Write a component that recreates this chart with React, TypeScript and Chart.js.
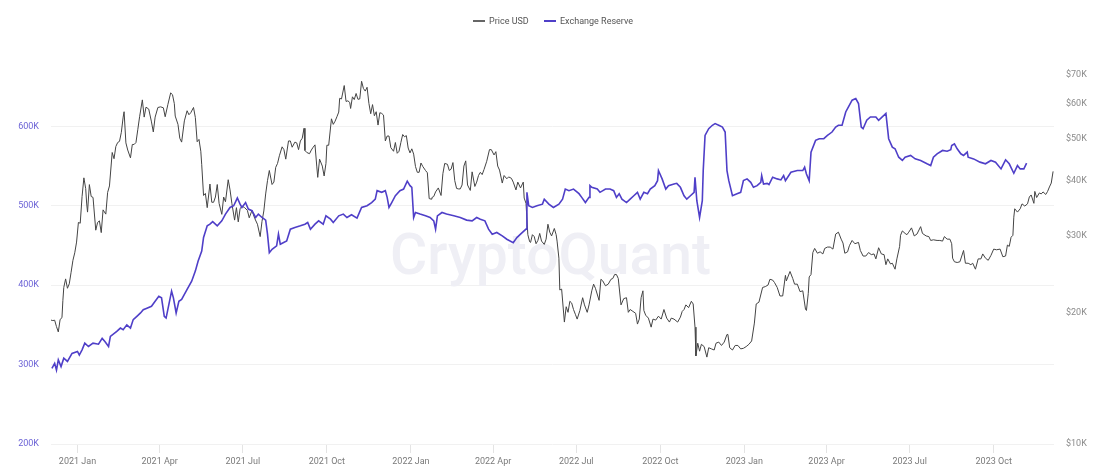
import React, { useEffect, useRef } from 'react';
import { Chart, registerables } from 'chart.js';

Chart.register(...registerables);

const priceDates: string[] = [
  '2020-12-03','2020-12-05','2020-12-07','2020-12-09','2020-12-11','2020-12-13','2020-12-15','2020-12-16','2020-12-17','2020-12-19','2020-12-21','2020-12-23','2020-12-25','2020-12-27','2020-12-29','2020-12-31',
  '2021-01-02','2021-01-04','2021-01-06','2021-01-08','2021-01-10','2021-01-11','2021-01-12','2021-01-14','2021-01-16','2021-01-18','2021-01-21','2021-01-23','2021-01-25','2021-01-27','2021-01-29',
  '2021-02-01','2021-02-03','2021-02-05','2021-02-08','2021-02-10','2021-02-12','2021-02-14','2021-02-16','2021-02-18','2021-02-20','2021-02-21','2021-02-23','2021-02-25','2021-02-28',
  '2021-03-02','2021-03-04','2021-03-06','2021-03-08','2021-03-10','2021-03-13','2021-03-15','2021-03-17','2021-03-20','2021-03-23','2021-03-25','2021-03-27','2021-03-30',
  '2021-04-02','2021-04-05','2021-04-07','2021-04-10','2021-04-13','2021-04-15','2021-04-17','2021-04-18','2021-04-21','2021-04-23','2021-04-25','2021-04-28',
  '2021-05-01','2021-05-03','2021-05-05','2021-05-08','2021-05-10','2021-05-12','2021-05-14','2021-05-16','2021-05-17','2021-05-19','2021-05-21','2021-05-23','2021-05-26','2021-05-28','2021-05-30',
  '2021-06-01','2021-06-03','2021-06-05','2021-06-08','2021-06-10','2021-06-12','2021-06-15','2021-06-17','2021-06-19','2021-06-22','2021-06-24','2021-06-26','2021-06-28','2021-06-30',
  '2021-07-03','2021-07-06','2021-07-08','2021-07-11','2021-07-14','2021-07-17','2021-07-20','2021-07-22','2021-07-24','2021-07-26','2021-07-28','2021-07-30',
  '2021-08-02','2021-08-04','2021-08-06','2021-08-08','2021-08-10','2021-08-13','2021-08-15','2021-08-17','2021-08-20','2021-08-22','2021-08-24','2021-08-27','2021-08-29','2021-08-31',
  '2021-09-02','2021-09-04','2021-09-06','2021-09-07','2021-09-09','2021-09-12','2021-09-14','2021-09-16','2021-09-18','2021-09-20','2021-09-21','2021-09-23','2021-09-26','2021-09-28','2021-09-30',
  '2021-10-01','2021-10-03','2021-10-06','2021-10-08','2021-10-10','2021-10-12','2021-10-14','2021-10-15','2021-10-17','2021-10-20','2021-10-22','2021-10-24','2021-10-26','2021-10-27','2021-10-29','2021-10-31',
  '2021-11-02','2021-11-04','2021-11-06','2021-11-08','2021-11-10','2021-11-12','2021-11-14','2021-11-16','2021-11-18','2021-11-20','2021-11-22','2021-11-24','2021-11-26','2021-11-28','2021-11-30',
  '2021-12-02','2021-12-04','2021-12-06','2021-12-08','2021-12-10','2021-12-13','2021-12-15','2021-12-17','2021-12-19','2021-12-21','2021-12-23','2021-12-25','2021-12-27','2021-12-29','2021-12-31',
  '2022-01-02','2022-01-04','2022-01-06','2022-01-08','2022-01-10','2022-01-12','2022-01-14','2022-01-17','2022-01-19','2022-01-21','2022-01-23','2022-01-24','2022-01-26','2022-01-28','2022-01-31',
  '2022-02-03','2022-02-05','2022-02-07','2022-02-10','2022-02-12','2022-02-14','2022-02-16','2022-02-18','2022-02-20','2022-02-22','2022-02-24','2022-02-26','2022-02-28',
  '2022-03-02','2022-03-04','2022-03-07','2022-03-09','2022-03-12','2022-03-14','2022-03-16','2022-03-18','2022-03-20','2022-03-22','2022-03-25','2022-03-28','2022-03-30',
  '2022-04-02','2022-04-04','2022-04-06','2022-04-08','2022-04-11','2022-04-13','2022-04-16','2022-04-18','2022-04-21','2022-04-23','2022-04-26','2022-04-28',
  '2022-05-01','2022-05-04','2022-05-05','2022-05-07','2022-05-09','2022-05-11','2022-05-12','2022-05-14','2022-05-16','2022-05-18','2022-05-20','2022-05-22','2022-05-24','2022-05-27','2022-05-29','2022-05-31',
  '2022-06-02','2022-06-04','2022-06-07','2022-06-09','2022-06-10','2022-06-12','2022-06-13','2022-06-15','2022-06-18','2022-06-20','2022-06-22','2022-06-24','2022-06-26','2022-06-28','2022-06-30',
  '2022-07-02','2022-07-05','2022-07-08','2022-07-10','2022-07-13','2022-07-15','2022-07-18','2022-07-20','2022-07-22','2022-07-26','2022-07-28','2022-07-30',
  '2022-08-02','2022-08-05','2022-08-08','2022-08-10','2022-08-12','2022-08-14','2022-08-16','2022-08-19','2022-08-22','2022-08-25','2022-08-27','2022-08-29',
  '2022-09-01','2022-09-04','2022-09-06','2022-09-08','2022-09-10','2022-09-12','2022-09-13','2022-09-15','2022-09-18','2022-09-21','2022-09-23','2022-09-26','2022-09-29',
  '2022-10-02','2022-10-05','2022-10-08','2022-10-11','2022-10-13','2022-10-16','2022-10-20','2022-10-23','2022-10-25','2022-10-27','2022-10-29',
  '2022-11-01','2022-11-04','2022-11-06','2022-11-08','2022-11-09','2022-11-11','2022-11-13','2022-11-15','2022-11-18','2022-11-21','2022-11-23','2022-11-26','2022-11-29',
  '2022-12-01','2022-12-04','2022-12-07','2022-12-10','2022-12-13','2022-12-14','2022-12-16','2022-12-19','2022-12-22','2022-12-25','2022-12-28','2022-12-31',
  '2023-01-03','2023-01-06','2023-01-09','2023-01-12','2023-01-14','2023-01-17','2023-01-21','2023-01-24','2023-01-27','2023-01-29',
  '2023-02-01','2023-02-03','2023-02-06','2023-02-09','2023-02-12','2023-02-15','2023-02-16','2023-02-20','2023-02-23','2023-02-25','2023-02-28',
  '2023-03-03','2023-03-06','2023-03-09','2023-03-10','2023-03-12','2023-03-13','2023-03-15','2023-03-17','2023-03-19','2023-03-22','2023-03-25','2023-03-28','2023-03-30',
  '2023-04-02','2023-04-05','2023-04-08','2023-04-11','2023-04-14','2023-04-17','2023-04-19','2023-04-21','2023-04-24','2023-04-26','2023-04-29',
  '2023-05-02','2023-05-06','2023-05-08','2023-05-11','2023-05-14','2023-05-17','2023-05-20','2023-05-23','2023-05-25','2023-05-28','2023-05-31',
  '2023-06-03','2023-06-05','2023-06-07','2023-06-10','2023-06-12','2023-06-15','2023-06-17','2023-06-20','2023-06-21','2023-06-23','2023-06-26','2023-06-28','2023-06-30',
  '2023-07-03','2023-07-06','2023-07-09','2023-07-13','2023-07-15','2023-07-19','2023-07-22','2023-07-24','2023-07-27','2023-07-31',
  '2023-08-03','2023-08-06','2023-08-08','2023-08-11','2023-08-14','2023-08-16','2023-08-17','2023-08-19','2023-08-22','2023-08-25','2023-08-29','2023-08-31',
  '2023-09-03','2023-09-06','2023-09-08','2023-09-11','2023-09-14','2023-09-17','2023-09-19','2023-09-22','2023-09-25','2023-09-28',
  '2023-10-01','2023-10-04','2023-10-08','2023-10-11','2023-10-14','2023-10-16','2023-10-18','2023-10-20','2023-10-22','2023-10-23','2023-10-24','2023-10-27','2023-10-30',
  '2023-11-01','2023-11-04','2023-11-07','2023-11-09','2023-11-11','2023-11-14','2023-11-15','2023-11-17','2023-11-20','2023-11-22','2023-11-24','2023-11-27','2023-11-29',
  '2023-12-01','2023-12-03','2023-12-05',
];

const priceValues: number[] = [
  19200,19150,19190,18550,18040,19270,19440,21300,22800,23850,22700,23240,24700,26300,27360,28950,
  32100,31970,36770,40600,38350,35560,33900,39180,36800,36630,30820,32100,32370,30430,34300,
  33540,37600,38900,46400,44900,47900,48900,49200,51600,55900,57500,48800,47000,45100,
  48400,48400,48900,52300,56000,61200,55900,58900,58300,54500,51700,55900,58800,
  59000,58700,56000,59800,63500,62900,60000,56200,53800,50000,49000,54800,
  57800,56600,57200,58800,55800,49100,49700,46700,43500,37000,37400,34700,39300,35700,35700,
  36700,39200,35500,33500,36700,35800,40200,38100,35500,32500,34700,32200,34500,35000,
  34700,34200,32900,34200,32800,31800,29800,32300,34100,37300,40000,42200,
  39200,39700,42900,43800,45600,47800,47100,44800,49300,49300,47700,49000,48800,47100,
  49300,50000,52700,46900,46400,46100,47000,47700,48300,43000,40700,44800,43200,41000,43800,
  48200,48200,55400,53800,54700,56000,57400,61700,61500,66000,60700,60900,60400,58500,62200,61300,
  63300,61400,61500,67500,65000,64100,65400,60100,56900,59700,56300,57500,53600,57200,57000,
  56500,49300,50600,50600,47600,46700,48900,46200,46700,48900,51000,50400,50700,47500,46300,
  47300,46000,43100,41800,41800,43900,43100,42200,41700,36400,36300,36600,36800,37700,38500,
  37000,41500,43800,43600,42200,42500,44000,40000,38400,38300,38300,39100,43200,
  44400,39100,38000,41900,38800,39700,41100,41800,41300,42400,44300,47100,47100,
  45800,46600,43200,42300,39500,41100,40400,40800,40500,39700,38100,39700,
  38500,39700,36500,35500,30100,29000,28900,30100,29800,28700,29200,30300,29100,28600,29400,31800,
  30500,29900,31100,30100,29100,26600,22500,22600,19000,20600,20000,21200,21000,20300,19800,
  19300,20200,21600,20800,20000,20800,22400,23200,22700,21300,23800,23600,
  23000,23200,23800,23900,24400,24400,23900,20800,21500,21600,20000,20300,
  20100,19900,18800,19300,21600,22400,20200,19700,19400,18500,19300,19200,19600,
  19300,20300,19400,19000,19400,19300,19000,19500,20100,20300,20800,
  20500,21200,20900,18500,15900,17000,16300,16900,16700,15800,16600,16500,16400,
  17000,17100,16800,17100,17800,17800,16600,16400,16800,16800,16500,16550,
  16700,16900,17200,18900,20900,21100,22800,22900,23100,23800,
  23700,23400,22800,21800,21800,24300,23600,24800,23900,23200,23200,
  22300,22400,20300,20200,22100,24100,24400,27400,28000,27300,27500,27200,28000,
  28200,28200,27900,30200,30500,29400,28800,27300,27500,28400,29200,
  28700,28900,27700,26900,26900,27400,27100,27200,26500,28100,27200,
  27100,25700,26500,25800,25900,25100,26500,28300,30000,30700,30300,30100,30500,
  31200,29900,30200,31400,30300,29900,29800,29200,29300,29200,
  29200,29100,29800,29400,29400,28700,26600,26100,26000,26100,27700,25900,
  25900,25700,25900,25100,26500,26500,27200,26600,26300,27000,
  27900,27800,27900,26800,26900,28500,28300,29700,30000,33000,34500,33900,34500,
  35400,35000,35400,36700,37100,35500,37800,36600,37500,37300,37700,37200,37800,
  38700,39500,42000,
];

const reserveDates: string[] = [
  '2020-12-04','2020-12-07','2020-12-09','2020-12-11','2020-12-14','2020-12-17','2020-12-21','2020-12-26',
  '2021-01-01','2021-01-03','2021-01-06','2021-01-09','2021-01-13','2021-01-18','2021-01-24','2021-01-28','2021-01-31',
  '2021-02-04','2021-02-06','2021-02-13','2021-02-17','2021-02-20','2021-02-24','2021-02-28',
  '2021-03-03','2021-03-07','2021-03-11','2021-03-14','2021-03-18','2021-03-23','2021-03-27','2021-03-31',
  '2021-04-03','2021-04-06','2021-04-08','2021-04-11','2021-04-14','2021-04-16','2021-04-19','2021-04-22','2021-04-25',
  '2021-05-01','2021-05-06','2021-05-10','2021-05-13','2021-05-17','2021-05-19','2021-05-23','2021-05-26','2021-05-29',
  '2021-06-03','2021-06-08','2021-06-12','2021-06-17','2021-06-21','2021-06-25','2021-06-28','2021-06-30',
  '2021-07-04','2021-07-07','2021-07-11','2021-07-15','2021-07-18','2021-07-22','2021-07-26','2021-07-28','2021-07-30',
  '2021-08-02','2021-08-07','2021-08-09','2021-08-11','2021-08-18','2021-08-22','2021-08-27',
  '2021-09-02','2021-09-07','2021-09-10','2021-09-13','2021-09-18','2021-09-22','2021-09-27','2021-09-30',
  '2021-10-05','2021-10-08','2021-10-14','2021-10-19','2021-10-23','2021-10-28',
  '2021-11-03','2021-11-08','2021-11-14','2021-11-19','2021-11-23','2021-11-25','2021-11-30',
  '2021-12-04','2021-12-06','2021-12-08','2021-12-11','2021-12-15','2021-12-20','2021-12-24','2021-12-28','2021-12-31',
  '2022-01-02','2022-01-04','2022-01-06','2022-01-11','2022-01-17','2022-01-22','2022-01-26','2022-01-28','2022-01-30',
  '2022-02-04','2022-02-09','2022-02-17','2022-02-24',
  '2022-03-03','2022-03-09','2022-03-14','2022-03-18','2022-03-23','2022-03-27','2022-03-31',
  '2022-04-05','2022-04-11','2022-04-16','2022-04-23','2022-04-27',
  '2022-05-01','2022-05-07','2022-05-08','2022-05-10','2022-05-14','2022-05-19','2022-05-25','2022-05-27',
  '2022-06-01','2022-06-06','2022-06-12','2022-06-16','2022-06-19','2022-06-23','2022-06-28',
  '2022-07-04','2022-07-07','2022-07-11','2022-07-15','2022-07-16','2022-07-18','2022-07-24','2022-07-27',
  '2022-08-02','2022-08-07','2022-08-11','2022-08-14','2022-08-17','2022-08-20','2022-08-25','2022-08-29',
  '2022-09-02','2022-09-06','2022-09-09','2022-09-13','2022-09-17','2022-09-20','2022-09-25','2022-09-28','2022-09-29',
  '2022-10-03','2022-10-07','2022-10-10','2022-10-16','2022-10-19','2022-10-23','2022-10-27','2022-10-30',
  '2022-11-03','2022-11-07','2022-11-08','2022-11-10','2022-11-13','2022-11-16','2022-11-17','2022-11-19','2022-11-23','2022-11-27','2022-11-30',
  '2022-12-04','2022-12-08','2022-12-11','2022-12-13','2022-12-15','2022-12-19','2022-12-24','2022-12-28','2022-12-31',
  '2023-01-04','2023-01-08','2023-01-11','2023-01-15','2023-01-19','2023-01-20','2023-01-22','2023-01-26','2023-01-28',
  '2023-02-01','2023-02-06','2023-02-10','2023-02-13','2023-02-15','2023-02-21','2023-02-28',
  '2023-03-06','2023-03-08','2023-03-10','2023-03-13','2023-03-15','2023-03-20','2023-03-24','2023-03-29',
  '2023-04-02','2023-04-07','2023-04-11','2023-04-14','2023-04-18','2023-04-22','2023-04-25','2023-04-29',
  '2023-05-03','2023-05-06','2023-05-09','2023-05-11','2023-05-15','2023-05-19','2023-05-25','2023-05-28',
  '2023-06-01','2023-06-05','2023-06-08','2023-06-12','2023-06-15','2023-06-19','2023-06-23','2023-06-26',
  '2023-07-02','2023-07-07','2023-07-13','2023-07-20','2023-07-24','2023-07-27','2023-07-31',
  '2023-08-06','2023-08-11','2023-08-15','2023-08-16','2023-08-19','2023-08-22','2023-08-26','2023-08-29',
  '2023-09-02','2023-09-03','2023-09-09','2023-09-16','2023-09-22','2023-09-28',
  '2023-10-03','2023-10-09','2023-10-14','2023-10-18','2023-10-23','2023-10-27','2023-10-30',
  '2023-11-03','2023-11-06',
];

const reserveValues: number[] = [
  295300,301600,293000,306000,297500,308000,304000,314000,
  316500,312000,318600,327000,322800,327000,325700,333000,329000,
  322800,335400,341800,346000,344000,350000,346000,
  356600,360800,365000,369000,371000,373400,379700,386000,
  384000,360800,358600,375600,392400,384000,365000,379700,382000,
  394600,405000,417700,430000,443000,460000,474700,476800,480000,
  474700,481000,489500,497800,500000,509700,502000,497800,
  504000,495800,493700,485200,489500,485200,481900,464200,440900,
  445200,449400,464200,451500,455700,470500,472600,
  474700,476800,478900,470500,476800,481000,476800,487300,
  483100,478900,487300,489500,485200,488600,
  484400,497800,500000,504000,508300,519000,516900,
  519000,510500,497800,504000,512600,519000,521000,531000,525300,
  523200,485200,491500,489500,487300,485200,481000,470500,487300,
  491500,489500,487300,485200,
  481900,481000,485200,483100,481000,470500,464200,
  466300,462000,457800,453500,459900,
  464200,470500,516900,500000,497800,500000,502000,508300,
  502000,497800,502000,508300,521000,519000,521000,
  515200,510500,504000,510500,525300,523200,521000,516900,
  521000,521000,519000,510500,515200,508300,504000,508300,
  512600,516900,508300,516900,515200,521000,525300,531600,544300,
  533800,521000,525300,527400,528200,523200,512600,508300,
  512600,516900,535900,506300,485200,506300,544300,588600,597000,601300,603400,
  601300,599100,592800,544300,531600,512600,515200,516900,531600,
  533800,529500,523200,525300,529500,538000,527400,528200,526600,
  535900,533800,532500,538000,531600,542100,544300,
  544300,548500,540000,531600,567500,582300,584400,584400,
  588600,592800,599100,601300,601300,618100,624500,632900,
  635000,628700,599100,597000,607600,611800,611800,607600,
  611800,616100,584400,573800,571700,561100,557000,561100,
  563300,559000,557000,552800,550600,561100,565400,
  569600,568700,570500,575900,578000,571700,565400,563300,
  567500,561100,559000,554900,552800,557000,
  554900,546400,557800,552800,540900,550600,546400,
  546400,553700,
];

const xTickDates: string[] = [
  '2021-01-01','2021-04-01','2021-07-01','2021-10-01','2022-01-01','2022-04-01',
  '2022-07-01','2022-10-01','2023-01-01','2023-04-01','2023-07-01','2023-10-01',
];
const xTickLabels: string[] = [
  '2021 Jan','2021 Apr','2021 Jul','2021 Oct','2022 Jan','2022 Apr',
  '2022 Jul','2022 Oct','2023 Jan','2023 Apr','2023 Jul','2023 Oct',
];
const leftTicks: number[] = [200000, 300000, 400000, 500000, 600000];
const rightTicks: number[] = [10000, 20000, 30000, 40000, 50000, 60000, 70000];

const X_MIN = '2020-12-03';
const X_MAX = '2023-12-06';

const ts = (d: string) => Date.parse(d + 'T00:00:00Z');

const PRICE_COLOR = '#444444';
const RESERVE_COLOR = '#4f3fc8';
const FONT = 'Roboto';

const watermark = {
  id: 'watermark',
  beforeDatasetsDraw(chart: any) {
    const { ctx, chartArea } = chart;
    ctx.save();
    ctx.font = `500 57px ${FONT}`;
    ctx.fillStyle = '#efeff5';
    ctx.textAlign = 'center';
    ctx.textBaseline = 'alphabetic';
    ctx.fillText('CryptoQuant', (chartArea.left + chartArea.right) / 2 - 2, 274);
    ctx.restore();
  },
};

export default function App() {
  const canvasRef = useRef<HTMLCanvasElement | null>(null);

  useEffect(() => {
    document.body.style.margin = '0';
    const canvas = canvasRef.current;
    if (!canvas) return;

    const n1 = Math.min(priceDates.length, priceValues.length);
    const priceData = [] as { x: number; y: number }[];
    for (let i = 0; i < n1; i++) priceData.push({ x: ts(priceDates[i]), y: priceValues[i] });
    const n2 = Math.min(reserveDates.length, reserveValues.length);
    const reserveData = [] as { x: number; y: number }[];
    for (let i = 0; i < n2; i++) reserveData.push({ x: ts(reserveDates[i]), y: reserveValues[i] });

    const xTicks = xTickDates.map(ts);

    const chart = new Chart(canvas, {
      type: 'line',
      data: {
        datasets: [
          {
            label: 'Exchange Reserve',
            data: reserveData,
            yAxisID: 'yReserve',
            borderColor: RESERVE_COLOR,
            backgroundColor: RESERVE_COLOR,
            borderWidth: 1.6,
            pointRadius: 0,
            tension: 0,
          },
          {
            label: 'Price USD',
            data: priceData,
            yAxisID: 'yPrice',
            borderColor: PRICE_COLOR,
            backgroundColor: PRICE_COLOR,
            borderWidth: 1,
            pointRadius: 0,
            tension: 0,
          },
        ],
      },
      options: {
        animation: false,
        responsive: true,
        maintainAspectRatio: false,
        parsing: false as any,
        normalized: true,
        layout: { padding: { top: 60, left: 0, right: 0, bottom: 0 } },
        plugins: {
          legend: { display: false },
          tooltip: { enabled: false },
        },
        scales: {
          x: {
            type: 'linear',
            min: ts(X_MIN),
            max: ts(X_MAX),
            afterBuildTicks: (scale: any) => {
              scale.ticks = xTicks.map((v) => ({ value: v }));
            },
            afterFit: (scale: any) => {
              scale.height = 26;
            },
            ticks: {
              autoSkip: false,
              maxRotation: 0,
              padding: 3,
              color: '#7a7a7a',
              font: { family: FONT, size: 9 },
              callback: (v: any) => {
                const i = xTicks.indexOf(Number(v));
                return i >= 0 ? xTickLabels[i] : '';
              },
            },
            grid: {
              drawOnChartArea: false,
              drawTicks: true,
              tickLength: 9,
              color: '#e4e4e4',
            },
            border: { display: false },
          },
          yReserve: {
            type: 'linear',
            position: 'left',
            min: 200000,
            max: 683500,
            afterBuildTicks: (scale: any) => {
              scale.ticks = leftTicks.map((v) => ({ value: v }));
            },
            afterFit: (scale: any) => {
              scale.width = 51;
            },
            ticks: {
              padding: 12,
              color: '#6c63d6',
              font: { family: FONT, size: 9 },
              callback: (v: any) => Math.round(Number(v) / 1000) + 'K',
            },
            grid: { color: '#f1f1f1', drawTicks: false },
            border: { display: false },
          },
          yPrice: {
            type: 'logarithmic',
            position: 'right',
            min: 10000,
            max: 75500,
            afterBuildTicks: (scale: any) => {
              scale.ticks = rightTicks.map((v) => ({ value: v }));
            },
            afterFit: (scale: any) => {
              scale.width = 41;
            },
            ticks: {
              padding: 12,
              color: '#8a8a8a',
              font: { family: FONT, size: 9 },
              callback: (v: any) => '$' + Math.round(Number(v) / 1000) + 'K',
            },
            grid: { drawOnChartArea: false, drawTicks: false },
            border: { display: false },
          },
        },
      },
      plugins: [watermark],
    });

    return () => {
      chart.destroy();
    };
  }, []);

  const legendItem = (color: string, text: string, left: number) => (
    <div
      style={{
        position: 'absolute',
        left,
        top: 15,
        height: 12,
        display: 'flex',
        alignItems: 'center',
        whiteSpace: 'nowrap',
      }}
    >
      <span style={{ display: 'inline-block', width: 12, height: 2, background: color, marginRight: 4 }} />
      <span style={{ font: `9px ${FONT}`, color: '#555' }}>{text}</span>
    </div>
  );

  return (
    <div style={{ position: 'relative', width: 1095, height: 470, background: '#fff' }}>
      <canvas ref={canvasRef} />
      {legendItem('#666', 'Price USD', 473)}
      {legendItem(RESERVE_COLOR, 'Exchange Reserve', 544)}
    </div>
  );
}
